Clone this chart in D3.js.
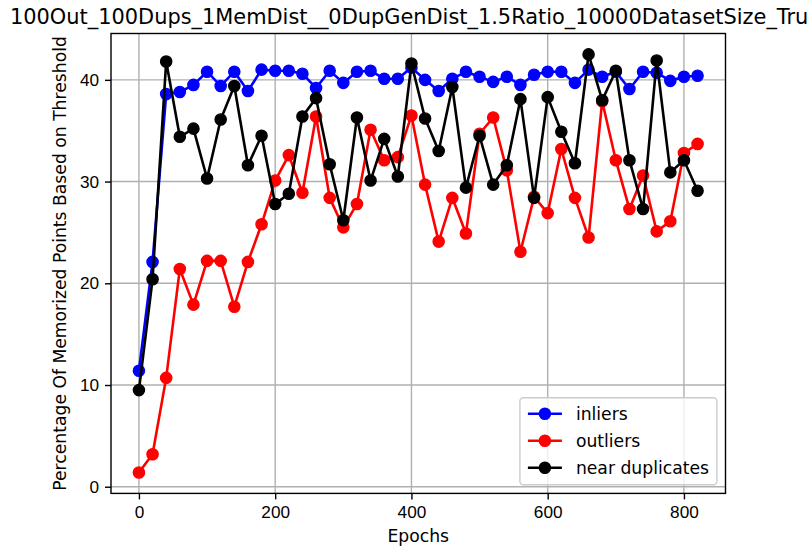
<!DOCTYPE html>
<html lang="en">
  <head>
    <meta charset="utf-8">
    <title>Memorized points per epoch</title>
    <script type="text/javascript" src="https://cdn.jsdelivr.net/npm/d3@7"></script>
    <style type="text/css">

html, body {
  margin: 0;
  padding: 0;
  background: #fff;
}

svg {
  display: block;
  font-family: "DejaVu Sans", sans-serif;
}

.grid line {
  stroke: #b0b0b0;
  stroke-width: 1.4px;
}

.axis path, .axis line {
  stroke: #000;
  stroke-width: 1.4px;
}

.axis text {
  font-size: 17.2px;
  fill: #000;
}

    </style>
  </head>
  <body>
    <div id="chart"></div>
    <script type="text/javascript">

// values
var epochs = [0, 20, 40, 60, 80, 100, 120, 140, 160, 180, 200, 220, 240, 260, 280, 300,
  320, 340, 360, 380, 400, 420, 440, 460, 480, 500, 520, 540, 560, 580, 600, 620,
  640, 660, 680, 700, 720, 740, 760, 780, 800, 820];

var inliers = [11.4, 22.1, 38.6, 38.8, 39.5, 40.8, 39.4, 40.8, 38.9, 41.0, 40.9, 40.9,
  40.6, 39.2, 40.9, 39.7, 40.8, 40.9, 40.1, 40.1, 41.2, 40.0, 38.9, 40.1, 40.8, 40.3,
  39.8, 40.3, 39.5, 40.5, 40.8, 40.8, 39.7, 41.0, 40.3, 40.8, 39.1, 40.8, 40.7, 39.9,
  40.3, 40.4];

var outliers = [1.4, 3.2, 10.7, 21.4, 17.9, 22.2, 22.2, 17.7, 22.1, 25.8, 30.1, 32.6,
  28.9, 36.4, 28.4, 25.5, 27.8, 35.1, 32.1, 32.4, 36.5, 29.7, 24.1, 28.4, 24.9, 34.7,
  36.3, 31.1, 23.1, 28.5, 26.9, 33.2, 28.4, 24.5, 37.9, 32.1, 27.3, 30.6, 25.1, 26.1,
  32.8, 33.7];

var nearDuplicates = [9.5, 20.4, 41.8, 34.4, 35.2, 30.3, 36.1, 39.4, 31.6, 34.5, 27.8,
  28.8, 36.4, 38.2, 31.7, 26.2, 36.3, 30.1, 34.2, 30.5, 41.6, 36.2, 33.0, 39.3, 29.4,
  34.5, 29.7, 31.6, 38.1, 28.4, 38.3, 34.9, 31.8, 42.5, 38.0, 40.9, 32.1, 27.3, 41.9,
  30.9, 32.1, 29.1];

var seriesNames = ["inliers", "outliers", "near duplicates"];
var seriesColors = ["#0000ff", "#ff0000", "#000000"];
var xTicks = [0, 200, 400, 600, 800];
var yTicks = [0, 10, 20, 30, 40];

var title = "100Out_100Dups_1MemDist__0DupGenDist_1.5Ratio_10000DatasetSize_True";
var xLabel = "Epochs";
var yLabel = "Percentage Of Memorized Points Based on Threshold";

var width = 808, height = 549;
// plot box in pixels
var plotL = 111, plotR = 725.5, plotT = 33.5, plotB = 493.4;

var series = [inliers, outliers, nearDuplicates].map(function(vals, i) {
  return {
    name: seriesNames[i],
    color: seriesColors[i],
    points: vals.map(function(v, j) { return {x: epochs[j], y: v}; })
  };
});

// matplotlib style 5% margins
function padded(ext) {
  var p = (ext[1] - ext[0]) * 0.05;
  return [ext[0] - p, ext[1] + p];
}

var allY = inliers.concat(outliers, nearDuplicates);

var x = d3.scaleLinear()
    .domain(padded(d3.extent(epochs)))
    .range([plotL, plotR]);

var y = d3.scaleLinear()
    .domain(padded(d3.extent(allY)))
    .range([plotB, plotT]);

var svg = d3.select("#chart").append("svg")
    .attr("width", width)
    .attr("height", height);

// grid
var grid = svg.append("g").attr("class", "grid");
grid.selectAll(".gx")
    .data(xTicks)
  .enter().append("line")
    .attr("x1", function(d) { return x(d); })
    .attr("x2", function(d) { return x(d); })
    .attr("y1", plotT)
    .attr("y2", plotB);
grid.selectAll(".gy")
    .data(yTicks)
  .enter().append("line")
    .attr("x1", plotL)
    .attr("x2", plotR)
    .attr("y1", function(d) { return y(d); })
    .attr("y2", function(d) { return y(d); });

// lines and markers, one series after another
var line = d3.line()
    .x(function(d) { return x(d.x); })
    .y(function(d) { return y(d.y); });

series.forEach(function(s) {
  var g = svg.append("g");
  g.append("path")
      .datum(s.points)
      .attr("d", line)
      .attr("fill", "none")
      .attr("stroke", s.color)
      .attr("stroke-width", 2.6)
      .attr("stroke-linejoin", "round");
  g.selectAll("circle")
      .data(s.points)
    .enter().append("circle")
      .attr("cx", function(d) { return x(d.x); })
      .attr("cy", function(d) { return y(d.y); })
      .attr("r", 5.6)
      .attr("fill", s.color)
      .attr("stroke", s.color)
      .attr("stroke-width", 1.4);
});

// axes
svg.append("g")
    .attr("class", "axis")
    .attr("transform", "translate(0," + plotB + ")")
    .call(d3.axisBottom(x).tickValues(xTicks).tickSize(6).tickPadding(6).tickSizeOuter(0))
    .call(function(g) { g.select(".domain").remove(); });

svg.append("g")
    .attr("class", "axis")
    .attr("transform", "translate(" + plotL + ",0)")
    .call(d3.axisLeft(y).tickValues(yTicks).tickSize(6).tickPadding(6).tickSizeOuter(0))
    .call(function(g) { g.select(".domain").remove(); });

// frame
svg.append("rect")
    .attr("x", plotL)
    .attr("y", plotT)
    .attr("width", plotR - plotL)
    .attr("height", plotB - plotT)
    .attr("fill", "none")
    .attr("stroke", "#000")
    .attr("stroke-width", 1.4);

// texts
svg.append("text")
    .attr("x", 10)
    .attr("y", 24)
    .attr("font-size", 20.9)
    .text(title);

svg.append("text")
    .attr("x", (plotL + plotR) / 2)
    .attr("y", 542)
    .attr("text-anchor", "middle")
    .attr("font-size", 17.2)
    .text(xLabel);

svg.append("text")
    .attr("transform", "translate(66," + ((plotT + plotB) / 2) + ") rotate(-90)")
    .attr("text-anchor", "middle")
    .attr("font-size", 17.2)
    .text(yLabel);

// legend, lower right
var legW = 197, legH = 87;
var legX = plotR - 8.6 - legW, legY = plotB - 8.6 - legH;
var legend = svg.append("g").attr("transform", "translate(" + legX + "," + legY + ")");

legend.append("rect")
    .attr("width", legW)
    .attr("height", legH)
    .attr("rx", 3.5)
    .attr("fill", "#fff")
    .attr("fill-opacity", 0.8)
    .attr("stroke", "#cccccc")
    .attr("stroke-width", 1.4);

var item = legend.selectAll(".item")
    .data(series)
  .enter().append("g")
    .attr("transform", function(d, i) { return "translate(0," + (16 + i * 27) + ")"; });

item.append("line")
    .attr("x1", 8)
    .attr("x2", 42)
    .attr("stroke", function(d) { return d.color; })
    .attr("stroke-width", 2.6);

item.append("circle")
    .attr("cx", 25)
    .attr("r", 5.6)
    .attr("fill", function(d) { return d.color; })
    .attr("stroke", function(d) { return d.color; })
    .attr("stroke-width", 1.4);

item.append("text")
    .attr("x", 56)
    .attr("dy", "0.35em")
    .attr("font-size", 17.2)
    .text(function(d) { return d.name; });

    </script>
  </body>
</html>
